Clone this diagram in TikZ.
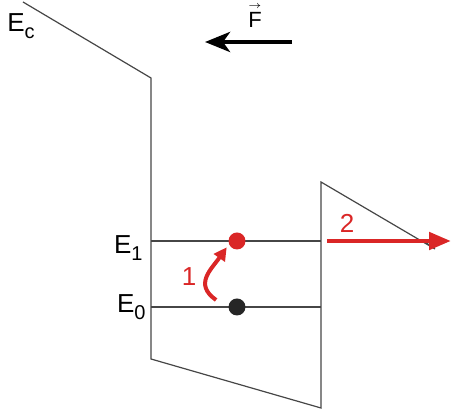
\documentclass[tikz,border=0pt]{standalone}
\usepackage{amsmath}
\usepackage{fontspec}
\setmainfont{Liberation Sans}
\usepackage{tikz}
\usetikzlibrary{arrows.meta}
\definecolor{bandred}{RGB}{218,38,38}
\definecolor{bandgray}{RGB}{70,70,70}
\tikzstyle{band} = [draw=bandgray, line width=0.6pt, line join=miter]
\tikzstyle{dot} = [circle, minimum size=8.5pt, inner sep=0pt]
\tikzstyle{lab} = [inner sep=0pt, font=\fontsize{13}{15}\selectfont]
\tikzstyle{fieldarrow} = [line width=2.4pt, -{Stealth[length=12.5pt,width=10pt,inset=3.5pt]}]
\tikzstyle{escape} = [bandred, line width=2.4pt, -{Triangle[length=11pt,width=8.5pt]}]
\tikzstyle{jump} = [bandred, line width=2pt, -{Triangle[length=6.5pt,width=6.5pt]}]
\newcommand{\lev}[2]{#1\raisebox{-3.5pt}{\fontsize{10}{10}\selectfont #2}}

\begin{document}
\begin{tikzpicture}[x=0.5pt,y=-0.5pt]
\useasboundingbox (0,0) rectangle (451,416);

    \draw[band] (23,2) -- (151,78) -- (151,359) -- (321,408) -- (321,182) -- (435,249) -- (425,242);
    \draw[band] (151,241) -- (321,241);
    \draw[band] (151,307) -- (321,307);

	\node[dot, fill=bandred] (e1) at (237,241) {};
	\node[dot, fill=black!85] (e0) at (237,307) {};

	\node[lab, anchor=base west] (ec) at (7,32) {\lev{E}{c}};
	\node[lab, anchor=base east] (l1) at (143,254) {\lev{E}{1}};
	\node[lab, anchor=base east] (l0) at (146,313) {\lev{E}{0}};
	\node[lab, font=\fontsize{11}{13}\selectfont, anchor=base] (f) at (255,28) {$\overset{\scriptscriptstyle\rightarrow}{\text{F}}$};

    \coordinate (ftail) at (292,42);
    \coordinate (fhead) at (205,42);
    \draw[fieldarrow] (ftail) -- (fhead);

    \coordinate (out0) at (327,241);
    \coordinate (out1) at (451,241);
    \draw[escape] (out0) -- (out1);
    \node[lab, text=bandred, anchor=base] (n2) at (347,233) {2};

    \draw[jump] ([xshift=-6pt,yshift=3.5pt]e0.west) to[out=145,in=-125,looseness=1.3] ([xshift=-2pt]e1.south west);
    \node[lab, text=bandred, anchor=base] (n1) at (189,286) {1};
\end{tikzpicture}
\end{document}
